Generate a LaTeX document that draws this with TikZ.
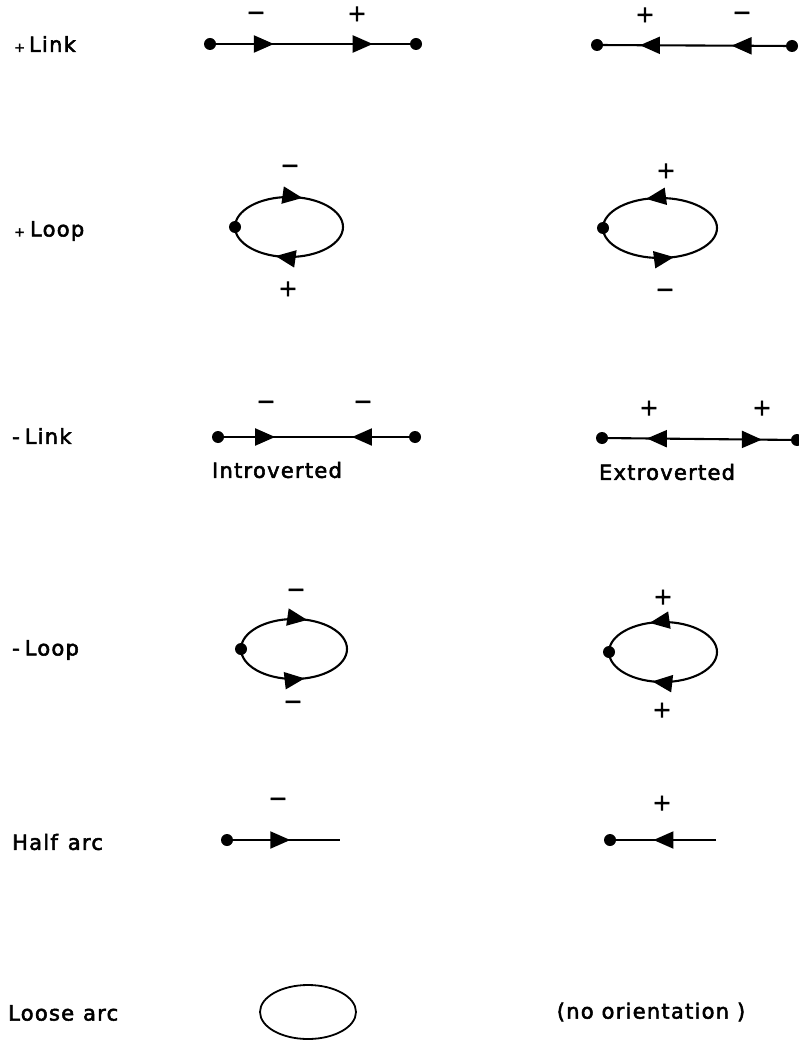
\documentclass[tikz,border=0pt]{standalone}
\usepackage{fontspec}
\setmainfont{DejaVu Sans}[LetterSpace=6,FakeBold=2.5]
\usetikzlibrary{arrows.meta,decorations.markings,shapes.geometric}

\tikzset{
  vertex/.style={circle,fill,inner sep=0pt,minimum size=12pt},
  edge/.style={line width=2.1pt},
  rowlabel/.style={anchor=west,inner sep=0pt,font=\fontsize{21}{24}\selectfont},
  caption/.style={inner sep=0pt,font=\fontsize{21}{24}\selectfont},
  sign/.style={inner sep=0pt,font=\fontsize{23}{24}\selectfont},
  fwd/.style={postaction={decorate,decoration={markings,
      mark=at position #1 with {\arrow{Triangle[length=20pt,width=17pt]}}}}},
  bwd/.style={postaction={decorate,decoration={markings,
      mark=at position #1 with {\arrowreversed{Triangle[length=20pt,width=17pt]}}}}},
}

\begin{document}
\begin{tikzpicture}[x=1pt,y=-1pt]
\useasboundingbox (0,0) rectangle (799,1040);

% ---- row labels ----
\node[rowlabel] (t1) at (14,44)  {{\fontsize{13}{13}\selectfont+}\kern4pt Link};
\node[rowlabel] (t2) at (14,231) {{\fontsize{13}{13}\selectfont+}\kern5pt Loop};
\node[rowlabel] (t3) at (12,436) {-\kern5pt Link};
\node[rowlabel] (t4) at (12,650) {-\kern5pt Loop};
\node[rowlabel] (t5) at (12,842) {Half\kern2pt{} arc};
\node[rowlabel] (t6) at (8,1013) {Loose\kern1pt{} arc};

% ---- + Link ----
\node[vertex] (a1) at (210,44) {};
\node[vertex] (b1) at (416,44) {};
\draw[edge,fwd=0.31,fwd=0.79] (a1.center) -- (b1.center);
\node[sign] (s1a) at (256,16) {−};
\node[sign] (s1b) at (357,14) {+};

\node[vertex] (c1) at (597,45) {};
\node[vertex] (d1) at (792,46) {};
\draw[edge,fwd=0.31,fwd=0.78] (d1.center) -- (c1.center);
\node[sign] (s1c) at (645,15) {+};
\node[sign] (s1d) at (742,16) {−};

% ---- + Loop ----
\node[vertex] (a2) at (235,227) {};
\draw[edge,fwd=0.30,fwd=0.80] (a2.center)
  arc[start angle=180,end angle=540,x radius=54,y radius=30];
\node[sign] (s2a) at (290,169) {−};
\node[sign] (s2b) at (288,289) {+};

\node[vertex] (c2) at (603,228) {};
\draw[edge,fwd=0.30,fwd=0.80] (c2.center)
  arc[start angle=180,end angle=-180,x radius=57,y radius=30];
\node[sign] (s2c) at (666,171) {+};
\node[sign] (s2d) at (665,293) {−};

% ---- - Link ----
\node[vertex] (a3) at (218,437) {};
\node[vertex] (b3) at (415,437) {};
\draw[edge,fwd=0.29,bwd=0.68] (a3.center) -- (b3.center);
\node[sign] (s3a) at (266,405) {−};
\node[sign] (s3b) at (363,405) {−};
\node[caption] (in) at (277,470) {Introverted};

\node[vertex] (c3) at (602,438) {};
\node[vertex] (d3) at (797,440) {};
\draw[edge,bwd=0.23,fwd=0.82] (c3.center) -- (d3.center);
\node[sign] (s3c) at (649,408) {+};
\node[sign] (s3d) at (762,408) {+};
\node[caption] (ex) at (667,472) {Extroverted};

% ---- - Loop ----
\node[vertex] (a4) at (241,649) {};
\draw[edge,fwd=0.60] (a4.center)
  arc[start angle=180,end angle=360,x radius=53,y radius=30];
\draw[edge,fwd=0.58] (a4.center)
  arc[start angle=180,end angle=0,x radius=53,y radius=30];
\node[sign] (s4a) at (296,593) {−};
\node[sign] (s4b) at (293,705) {−};

\node[vertex] (c4) at (609,652) {};
\coordinate (e4) at (717,652);
\draw[edge,fwd=0.60] (e4)
  arc[start angle=0,end angle=-180,x radius=54,y radius=30];
\draw[edge,fwd=0.58] (e4)
  arc[start angle=0,end angle=180,x radius=54,y radius=30];
\node[sign] (s4c) at (663,597) {+};
\node[sign] (s4d) at (662,710) {+};

% ---- Half arc ----
\node[vertex] (a5) at (227,840) {};
\coordinate (b5) at (340,840);
\draw[edge,fwd=0.56] (a5.center) -- (b5);
\node[sign] (s5a) at (278,802) {−};

\node[vertex] (c5) at (610,840) {};
\coordinate (d5) at (716,840);
\draw[edge,fwd=0.59] (d5) -- (c5.center);
\node[sign] (s5b) at (662,803) {+};

% ---- Loose arc ----
\node[draw,ellipse,line width=1.8pt,minimum width=96pt,minimum height=54pt,inner sep=0pt]
  (la) at (308,1012) {};
\node[caption] (no) at (651,1012) {(no orientation )};
\end{tikzpicture}
\end{document}
